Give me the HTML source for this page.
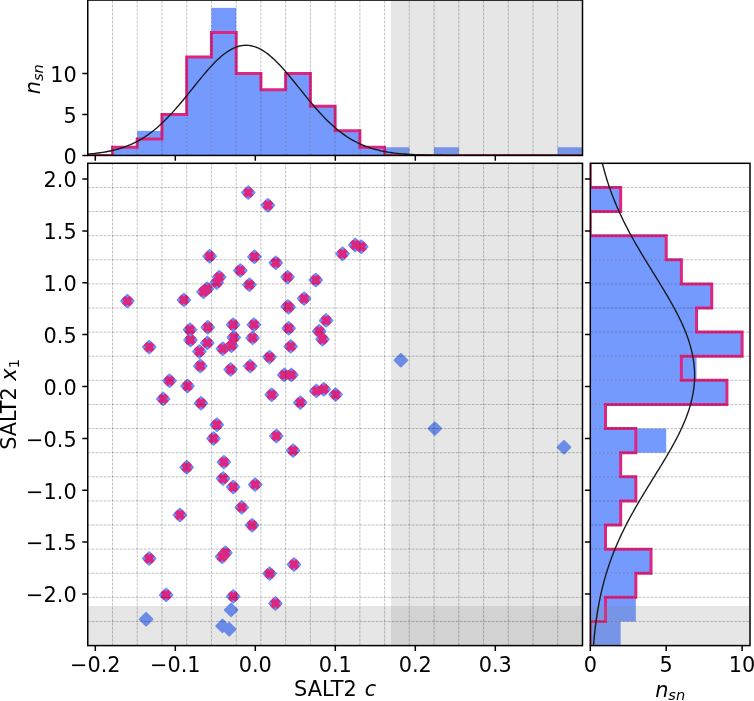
<!DOCTYPE html>
<html lang="en">
<head>
<meta charset="utf-8">
<title>SALT2 c vs x1</title>
<style>
html,body{margin:0;padding:0;background:#fff;}
body{width:754px;height:701px;overflow:hidden;}
svg{display:block;}
</style>
</head>
<body>
<svg width="754" height="701" viewBox="0 0 754 701">
<rect x="0" y="0" width="754" height="701" fill="#ffffff"/>
<defs>
<clipPath id="cm"><rect x="87.75" y="163.3" width="494.75" height="482.3"/></clipPath>
<clipPath id="ct"><rect x="87.75" y="0.05" width="494.75" height="155.4"/></clipPath>
<clipPath id="cr"><rect x="590.3" y="163.3" width="159.7" height="482.3"/></clipPath>
<g id="d"><path d="M0,-6.2L6.2,0L0,6.2L-6.2,0Z" fill="#648FFF" stroke="#648FFF" stroke-width="2.08" stroke-linejoin="round"/></g>
<g id="x"><path d="M-3.8,-3.8L3.8,3.8M-3.8,3.8L3.8,-3.8" stroke="#DC267F" stroke-width="4.7" fill="none"/></g>
</defs>
<g clip-path="url(#ct)">
<rect x="112.49" y="147.25" width="24.74" height="8.2" fill="#749AFF"/>
<rect x="137.22" y="130.85" width="24.74" height="24.6" fill="#749AFF"/>
<rect x="161.96" y="114.45" width="24.74" height="41" fill="#749AFF"/>
<rect x="186.7" y="57.05" width="24.74" height="98.4" fill="#749AFF"/>
<rect x="211.44" y="7.85" width="24.74" height="147.6" fill="#749AFF"/>
<rect x="236.18" y="73.45" width="24.74" height="82" fill="#749AFF"/>
<rect x="260.91" y="89.85" width="24.74" height="65.6" fill="#749AFF"/>
<rect x="285.65" y="73.45" width="24.74" height="82" fill="#749AFF"/>
<rect x="310.39" y="106.25" width="24.74" height="49.2" fill="#749AFF"/>
<rect x="335.12" y="130.85" width="24.74" height="24.6" fill="#749AFF"/>
<rect x="359.86" y="147.25" width="24.74" height="8.2" fill="#749AFF"/>
<rect x="384.6" y="147.25" width="24.74" height="8.2" fill="#749AFF"/>
<rect x="434.07" y="147.25" width="24.74" height="8.2" fill="#749AFF"/>
<rect x="557.76" y="147.25" width="24.74" height="8.2" fill="#749AFF"/>
<path d="M87.75,155.45L87.75,155.45L112.49,155.45L112.49,147.25L137.22,147.25L137.22,139.05L161.96,139.05L161.96,114.45L186.7,114.45L186.7,57.05L211.44,57.05L211.44,32.45L236.18,32.45L236.18,73.45L260.91,73.45L260.91,89.85L285.65,89.85L285.65,73.45L310.39,73.45L310.39,106.25L335.12,106.25L335.12,130.85L359.86,130.85L359.86,147.25L384.6,147.25L384.6,155.45L409.34,155.45L409.34,155.45L434.07,155.45L434.07,155.45L458.81,155.45L458.81,155.45L483.55,155.45L483.55,155.45L508.29,155.45L508.29,155.45L533.03,155.45L533.03,155.45L557.76,155.45L557.76,155.45L582.5,155.45L582.5,155.45" stroke="#DC267F" stroke-width="3.0" fill="none" stroke-linejoin="miter"/>
<rect x="391.0" y="-4.95" width="196.5" height="165.4" fill="#808080" fill-opacity="0.2"/>
<path d="M112.49,155.45V0.05M137.22,155.45V0.05M161.96,155.45V0.05M186.7,155.45V0.05M211.44,155.45V0.05M236.18,155.45V0.05M260.91,155.45V0.05M285.65,155.45V0.05M310.39,155.45V0.05M335.12,155.45V0.05M359.86,155.45V0.05M384.6,155.45V0.05M409.34,155.45V0.05M434.07,155.45V0.05M458.81,155.45V0.05M483.55,155.45V0.05M508.29,155.45V0.05M533.03,155.45V0.05M557.76,155.45V0.05" stroke="#000" stroke-opacity="0.31" stroke-width="0.8" stroke-dasharray="2.8 1.2" fill="none"/>
<polyline points="87.75,154.04 90.22,153.84 92.7,153.61 95.17,153.35 97.64,153.06 100.12,152.74 102.59,152.38 105.07,151.98 107.54,151.53 110.01,151.04 112.49,150.5 114.96,149.9 117.44,149.25 119.91,148.53 122.38,147.74 124.86,146.89 127.33,145.96 129.8,144.95 132.28,143.85 134.75,142.67 137.22,141.4 139.7,140.04 142.17,138.58 144.65,137.02 147.12,135.36 149.59,133.6 152.07,131.73 154.54,129.76 157.01,127.69 159.49,125.51 161.96,123.22 164.44,120.84 166.91,118.36 169.38,115.79 171.86,113.13 174.33,110.39 176.81,107.57 179.28,104.69 181.75,101.74 184.23,98.74 186.7,95.71 189.17,92.65 191.65,89.57 194.12,86.48 196.59,83.41 199.07,80.35 201.54,77.34 204.02,74.38 206.49,71.48 208.96,68.66 211.44,65.95 213.91,63.34 216.38,60.86 218.86,58.52 221.33,56.33 223.81,54.31 226.28,52.46 228.75,50.81 231.23,49.35 233.7,48.11 236.18,47.08 238.65,46.27 241.12,45.69 243.6,45.35 246.07,45.24 248.54,45.36 251.02,45.71 253.49,46.3 255.97,47.12 258.44,48.15 260.91,49.41 263.39,50.87 265.86,52.53 268.33,54.38 270.81,56.41 273.28,58.61 275.75,60.95 278.23,63.44 280.7,66.05 283.18,68.78 285.65,71.59 288.12,74.49 290.6,77.46 293.07,80.48 295.54,83.53 298.02,86.61 300.49,89.69 302.97,92.77 305.44,95.83 307.91,98.87 310.39,101.86 312.86,104.8 315.34,107.69 317.81,110.5 320.28,113.24 322.76,115.9 325.23,118.47 327.7,120.94 330.18,123.32 332.65,125.6 335.12,127.77 337.6,129.84 340.07,131.81 342.55,133.67 345.02,135.43 347.49,137.09 349.97,138.64 352.44,140.1 354.92,141.46 357.39,142.72 359.86,143.9 362.34,144.99 364.81,145.99 367.28,146.92 369.76,147.78 372.23,148.56 374.7,149.28 377.18,149.93 379.65,150.52 382.13,151.06 384.6,151.55 387.07,152 389.55,152.39 392.02,152.75 394.5,153.07 396.97,153.36 399.44,153.62 401.92,153.85 404.39,154.05 406.86,154.23 409.34,154.39 411.81,154.53 414.29,154.65 416.76,154.76 419.23,154.85 421.71,154.94 424.18,155.01 426.65,155.07 429.13,155.13 431.6,155.18 434.07,155.22 436.55,155.25 439.02,155.28 441.5,155.31 443.97,155.33 446.44,155.35 448.92,155.36 451.39,155.38 453.87,155.39 456.34,155.4 458.81,155.41 461.29,155.42 463.76,155.42 466.23,155.43 468.71,155.43 471.18,155.43 473.65,155.44 476.13,155.44 478.6,155.44 481.08,155.44 483.55,155.44 486.02,155.45 488.5,155.45 490.97,155.45 493.44,155.45 495.92,155.45 498.39,155.45 500.87,155.45 503.34,155.45 505.81,155.45 508.29,155.45 510.76,155.45 513.24,155.45 515.71,155.45 518.18,155.45 520.66,155.45 523.13,155.45 525.6,155.45 528.08,155.45 530.55,155.45 533.02,155.45 535.5,155.45 537.97,155.45 540.45,155.45 542.92,155.45 545.39,155.45 547.87,155.45 550.34,155.45 552.82,155.45 555.29,155.45 557.76,155.45 560.24,155.45 562.71,155.45 565.18,155.45 567.66,155.45 570.13,155.45 572.61,155.45 575.08,155.45 577.55,155.45 580.03,155.45 582.5,155.45" stroke="#1a1a1a" stroke-width="1.39" fill="none"/>
</g>
<rect x="87.75" y="0.05" width="494.75" height="155.4" stroke="#000" stroke-width="1.5" fill="none"/>
<path d="M95.3,155.45v5.4M175.3,155.45v5.4M255.3,155.45v5.4M335.3,155.45v5.4M415.3,155.45v5.4M495.3,155.45v5.4M87.75,155.45h-5.4M87.75,114.45h-5.4M87.75,73.45h-5.4" stroke="#000" stroke-width="1.5" fill="none"/>
<g clip-path="url(#cr)">
<rect x="590.3" y="621.49" width="30.36" height="24.12" fill="#749AFF"/>
<rect x="590.3" y="597.37" width="45.54" height="24.12" fill="#749AFF"/>
<rect x="590.3" y="573.25" width="45.54" height="24.12" fill="#749AFF"/>
<rect x="590.3" y="549.14" width="60.72" height="24.12" fill="#749AFF"/>
<rect x="590.3" y="525.02" width="15.18" height="24.12" fill="#749AFF"/>
<rect x="590.3" y="500.91" width="30.36" height="24.12" fill="#749AFF"/>
<rect x="590.3" y="476.8" width="45.54" height="24.12" fill="#749AFF"/>
<rect x="590.3" y="452.68" width="30.36" height="24.12" fill="#749AFF"/>
<rect x="590.3" y="428.56" width="75.9" height="24.12" fill="#749AFF"/>
<rect x="590.3" y="404.45" width="15.18" height="24.12" fill="#749AFF"/>
<rect x="590.3" y="380.33" width="136.62" height="24.12" fill="#749AFF"/>
<rect x="590.3" y="356.22" width="106.26" height="24.12" fill="#749AFF"/>
<rect x="590.3" y="332.11" width="151.8" height="24.12" fill="#749AFF"/>
<rect x="590.3" y="307.99" width="106.26" height="24.12" fill="#749AFF"/>
<rect x="590.3" y="283.88" width="121.44" height="24.12" fill="#749AFF"/>
<rect x="590.3" y="259.76" width="91.08" height="24.12" fill="#749AFF"/>
<rect x="590.3" y="235.64" width="75.9" height="24.12" fill="#749AFF"/>
<rect x="590.3" y="187.41" width="30.36" height="24.12" fill="#749AFF"/>
<path d="M590.3,645.6L590.3,645.6L590.3,621.49L605.48,621.49L605.48,597.37L635.84,597.37L635.84,573.25L651.02,573.25L651.02,549.14L605.48,549.14L605.48,525.02L620.66,525.02L620.66,500.91L635.84,500.91L635.84,476.8L620.66,476.8L620.66,452.68L635.84,452.68L635.84,428.56L605.48,428.56L605.48,404.45L726.92,404.45L726.92,380.33L681.38,380.33L681.38,356.22L742.1,356.22L742.1,332.11L696.56,332.11L696.56,307.99L711.74,307.99L711.74,283.88L681.38,283.88L681.38,259.76L666.2,259.76L666.2,235.64L590.3,235.64L590.3,211.53L620.66,211.53L620.66,187.41L590.3,187.41L590.3,163.3L590.3,163.3" stroke="#DC267F" stroke-width="3.0" fill="none" stroke-linejoin="miter"/>
<rect x="585.3" y="606.0" width="169.7" height="44.6" fill="#808080" fill-opacity="0.2"/>
<path d="M590.3,621.49H750.0M590.3,597.37H750.0M590.3,573.25H750.0M590.3,549.14H750.0M590.3,525.02H750.0M590.3,500.91H750.0M590.3,476.8H750.0M590.3,452.68H750.0M590.3,428.56H750.0M590.3,404.45H750.0M590.3,380.33H750.0M590.3,356.22H750.0M590.3,332.11H750.0M590.3,307.99H750.0M590.3,283.88H750.0M590.3,259.76H750.0M590.3,235.64H750.0M590.3,211.53H750.0M590.3,187.41H750.0" stroke="#000" stroke-opacity="0.31" stroke-width="0.8" stroke-dasharray="2.8 1.2" fill="none"/>
<polyline points="602.38,163.3 602.98,165.71 603.61,168.12 604.26,170.53 604.93,172.95 605.63,175.36 606.35,177.77 607.09,180.18 607.86,182.59 608.66,185 609.48,187.42 610.32,189.83 611.19,192.24 612.09,194.65 613.01,197.06 613.96,199.47 614.94,201.88 615.94,204.3 616.97,206.71 618.02,209.12 619.1,211.53 620.2,213.94 621.33,216.35 622.48,218.76 623.65,221.18 624.86,223.59 626.08,226 627.33,228.41 628.59,230.82 629.88,233.23 631.19,235.65 632.52,238.06 633.87,240.47 635.24,242.88 636.63,245.29 638.03,247.7 639.44,250.11 640.87,252.53 642.31,254.94 643.77,257.35 645.23,259.76 646.7,262.17 648.18,264.58 649.67,266.99 651.16,269.41 652.65,271.82 654.14,274.23 655.64,276.64 657.13,279.05 658.61,281.46 660.09,283.88 661.56,286.29 663.03,288.7 664.48,291.11 665.92,293.52 667.34,295.93 668.75,298.34 670.14,300.76 671.5,303.17 672.85,305.58 674.17,307.99 675.46,310.4 676.73,312.81 677.96,315.22 679.17,317.64 680.34,320.05 681.47,322.46 682.57,324.87 683.63,327.28 684.65,329.69 685.63,332.11 686.56,334.52 687.45,336.93 688.29,339.34 689.08,341.75 689.83,344.16 690.52,346.57 691.17,348.99 691.76,351.4 692.3,353.81 692.78,356.22 693.21,358.63 693.58,361.04 693.9,363.45 694.16,365.87 694.36,368.28 694.5,370.69 694.59,373.1 694.62,375.51 694.59,377.92 694.5,380.34 694.36,382.75 694.16,385.16 693.9,387.57 693.58,389.98 693.2,392.39 692.78,394.8 692.29,397.22 691.75,399.63 691.16,402.04 690.52,404.45 689.82,406.86 689.08,409.27 688.28,411.68 687.44,414.1 686.55,416.51 685.62,418.92 684.64,421.33 683.62,423.74 682.56,426.15 681.46,428.56 680.33,430.98 679.16,433.39 677.95,435.8 676.72,438.21 675.45,440.62 674.16,443.03 672.84,445.45 671.49,447.86 670.12,450.27 668.74,452.68 667.33,455.09 665.91,457.5 664.47,459.91 663.02,462.33 661.55,464.74 660.08,467.15 658.6,469.56 657.11,471.97 655.62,474.38 654.13,476.8 652.64,479.21 651.15,481.62 649.66,484.03 648.17,486.44 646.69,488.85 645.22,491.26 643.76,493.68 642.3,496.09 640.86,498.5 639.43,500.91 638.02,503.32 636.62,505.73 635.23,508.14 633.86,510.56 632.51,512.97 631.18,515.38 629.87,517.79 628.58,520.2 627.32,522.61 626.07,525.03 624.85,527.44 623.65,529.85 622.47,532.26 621.32,534.67 620.19,537.08 619.09,539.49 618.01,541.91 616.96,544.32 615.93,546.73 614.93,549.14 613.96,551.55 613.01,553.96 612.08,556.37 611.19,558.79 610.32,561.2 609.47,563.61 608.65,566.02 607.86,568.43 607.09,570.84 606.34,573.25 605.62,575.67 604.93,578.08 604.25,580.49 603.6,582.9 602.98,585.31 602.38,587.72 601.8,590.14 601.24,592.55 600.7,594.96 600.18,597.37 599.69,599.78 599.21,602.19 598.75,604.6 598.32,607.02 597.9,609.43 597.49,611.84 597.11,614.25 596.74,616.66 596.39,619.07 596.06,621.49 595.74,623.9 595.43,626.31 595.14,628.72 594.87,631.13 594.6,633.54 594.35,635.95 594.12,638.37 593.89,640.78 593.68,643.19 593.47,645.6" stroke="#1a1a1a" stroke-width="1.39" fill="none"/>
</g>
<rect x="590.3" y="163.3" width="159.7" height="482.3" stroke="#000" stroke-width="1.5" fill="none"/>
<path d="M590.3,594h-5.4M590.3,542.12h-5.4M590.3,490.25h-5.4M590.3,438.38h-5.4M590.3,386.5h-5.4M590.3,334.62h-5.4M590.3,282.75h-5.4M590.3,230.88h-5.4M590.3,179h-5.4M590.3,645.6v5.4M666.2,645.6v5.4M742.1,645.6v5.4" stroke="#000" stroke-width="1.5" fill="none"/>
<g clip-path="url(#cm)">
<use href="#d" x="248.3" y="192.6"/>
<use href="#d" x="267.9" y="205.3"/>
<use href="#d" x="209.7" y="256.3"/>
<use href="#d" x="254.4" y="256.8"/>
<use href="#d" x="275.8" y="262.8"/>
<use href="#d" x="240.3" y="270.5"/>
<use href="#d" x="219.2" y="277.1"/>
<use href="#d" x="216.8" y="282.5"/>
<use href="#d" x="249.4" y="284.7"/>
<use href="#d" x="287.6" y="277.1"/>
<use href="#d" x="315.8" y="280.0"/>
<use href="#d" x="304.1" y="298.6"/>
<use href="#d" x="287.8" y="306.5"/>
<use href="#d" x="288.7" y="307.2"/>
<use href="#d" x="207.1" y="288.8"/>
<use href="#d" x="203.5" y="291.7"/>
<use href="#d" x="342.5" y="253.8"/>
<use href="#d" x="355.3" y="245.0"/>
<use href="#d" x="361.3" y="246.8"/>
<use href="#d" x="127.4" y="301.1"/>
<use href="#d" x="183.9" y="299.9"/>
<use href="#d" x="190.0" y="329.7"/>
<use href="#d" x="207.8" y="327.2"/>
<use href="#d" x="233.1" y="324.7"/>
<use href="#d" x="253.9" y="324.7"/>
<use href="#d" x="190.5" y="340.0"/>
<use href="#d" x="207.3" y="342.9"/>
<use href="#d" x="233.8" y="337.5"/>
<use href="#d" x="252.6" y="337.9"/>
<use href="#d" x="199.4" y="351.5"/>
<use href="#d" x="222.8" y="348.8"/>
<use href="#d" x="231.4" y="345.7"/>
<use href="#d" x="269.5" y="357.1"/>
<use href="#d" x="200.3" y="366.0"/>
<use href="#d" x="230.6" y="369.5"/>
<use href="#d" x="250.2" y="366.1"/>
<use href="#d" x="187.5" y="386.0"/>
<use href="#d" x="201.0" y="403.2"/>
<use href="#d" x="271.7" y="394.7"/>
<use href="#d" x="326.1" y="320.4"/>
<use href="#d" x="288.7" y="328.3"/>
<use href="#d" x="319.2" y="331.2"/>
<use href="#d" x="322.5" y="339.2"/>
<use href="#d" x="290.7" y="346.4"/>
<use href="#d" x="284.3" y="374.9"/>
<use href="#d" x="291.4" y="374.9"/>
<use href="#d" x="316.4" y="390.9"/>
<use href="#d" x="323.8" y="389.2"/>
<use href="#d" x="335.6" y="394.6"/>
<use href="#d" x="300.3" y="402.6"/>
<use href="#d" x="149.2" y="347.1"/>
<use href="#d" x="169.5" y="380.7"/>
<use href="#d" x="163.2" y="398.9"/>
<use href="#d" x="216.8" y="424.7"/>
<use href="#d" x="213.5" y="438.5"/>
<use href="#d" x="223.9" y="462.1"/>
<use href="#d" x="186.7" y="467.3"/>
<use href="#d" x="223.1" y="478.5"/>
<use href="#d" x="233.2" y="487.0"/>
<use href="#d" x="255.2" y="484.6"/>
<use href="#d" x="276.3" y="436.0"/>
<use href="#d" x="293.1" y="450.6"/>
<use href="#d" x="179.9" y="515.0"/>
<use href="#d" x="149.2" y="558.5"/>
<use href="#d" x="241.8" y="507.4"/>
<use href="#d" x="252.1" y="525.2"/>
<use href="#d" x="225.4" y="552.8"/>
<use href="#d" x="222.1" y="556.8"/>
<use href="#d" x="269.6" y="573.6"/>
<use href="#d" x="294.0" y="564.5"/>
<use href="#d" x="275.4" y="603.5"/>
<use href="#d" x="166.1" y="594.9"/>
<use href="#d" x="233.2" y="596.4"/>
<use href="#d" x="146.1" y="619.2"/>
<use href="#d" x="231.1" y="609.9"/>
<use href="#d" x="222.5" y="625.9"/>
<use href="#d" x="229.2" y="629.2"/>
<use href="#d" x="400.9" y="360.3"/>
<use href="#d" x="434.8" y="428.6"/>
<use href="#d" x="564.0" y="447.3"/>
<use href="#x" x="248.3" y="192.6"/>
<use href="#x" x="267.9" y="205.3"/>
<use href="#x" x="209.7" y="256.3"/>
<use href="#x" x="254.4" y="256.8"/>
<use href="#x" x="275.8" y="262.8"/>
<use href="#x" x="240.3" y="270.5"/>
<use href="#x" x="219.2" y="277.1"/>
<use href="#x" x="216.8" y="282.5"/>
<use href="#x" x="249.4" y="284.7"/>
<use href="#x" x="287.6" y="277.1"/>
<use href="#x" x="315.8" y="280.0"/>
<use href="#x" x="304.1" y="298.6"/>
<use href="#x" x="287.8" y="306.5"/>
<use href="#x" x="288.7" y="307.2"/>
<use href="#x" x="207.1" y="288.8"/>
<use href="#x" x="203.5" y="291.7"/>
<use href="#x" x="342.5" y="253.8"/>
<use href="#x" x="355.3" y="245.0"/>
<use href="#x" x="361.3" y="246.8"/>
<use href="#x" x="127.4" y="301.1"/>
<use href="#x" x="183.9" y="299.9"/>
<use href="#x" x="190.0" y="329.7"/>
<use href="#x" x="207.8" y="327.2"/>
<use href="#x" x="233.1" y="324.7"/>
<use href="#x" x="253.9" y="324.7"/>
<use href="#x" x="190.5" y="340.0"/>
<use href="#x" x="207.3" y="342.9"/>
<use href="#x" x="233.8" y="337.5"/>
<use href="#x" x="252.6" y="337.9"/>
<use href="#x" x="199.4" y="351.5"/>
<use href="#x" x="222.8" y="348.8"/>
<use href="#x" x="231.4" y="345.7"/>
<use href="#x" x="269.5" y="357.1"/>
<use href="#x" x="200.3" y="366.0"/>
<use href="#x" x="230.6" y="369.5"/>
<use href="#x" x="250.2" y="366.1"/>
<use href="#x" x="187.5" y="386.0"/>
<use href="#x" x="201.0" y="403.2"/>
<use href="#x" x="271.7" y="394.7"/>
<use href="#x" x="326.1" y="320.4"/>
<use href="#x" x="288.7" y="328.3"/>
<use href="#x" x="319.2" y="331.2"/>
<use href="#x" x="322.5" y="339.2"/>
<use href="#x" x="290.7" y="346.4"/>
<use href="#x" x="284.3" y="374.9"/>
<use href="#x" x="291.4" y="374.9"/>
<use href="#x" x="316.4" y="390.9"/>
<use href="#x" x="323.8" y="389.2"/>
<use href="#x" x="335.6" y="394.6"/>
<use href="#x" x="300.3" y="402.6"/>
<use href="#x" x="149.2" y="347.1"/>
<use href="#x" x="169.5" y="380.7"/>
<use href="#x" x="163.2" y="398.9"/>
<use href="#x" x="216.8" y="424.7"/>
<use href="#x" x="213.5" y="438.5"/>
<use href="#x" x="223.9" y="462.1"/>
<use href="#x" x="186.7" y="467.3"/>
<use href="#x" x="223.1" y="478.5"/>
<use href="#x" x="233.2" y="487.0"/>
<use href="#x" x="255.2" y="484.6"/>
<use href="#x" x="276.3" y="436.0"/>
<use href="#x" x="293.1" y="450.6"/>
<use href="#x" x="179.9" y="515.0"/>
<use href="#x" x="149.2" y="558.5"/>
<use href="#x" x="241.8" y="507.4"/>
<use href="#x" x="252.1" y="525.2"/>
<use href="#x" x="225.4" y="552.8"/>
<use href="#x" x="222.1" y="556.8"/>
<use href="#x" x="269.6" y="573.6"/>
<use href="#x" x="294.0" y="564.5"/>
<use href="#x" x="275.4" y="603.5"/>
<use href="#x" x="166.1" y="594.9"/>
<use href="#x" x="233.2" y="596.4"/>
<rect x="391.0" y="158.3" width="196.5" height="492.3" fill="#808080" fill-opacity="0.2"/>
<rect x="82.75" y="606.0" width="504.75" height="44.6" fill="#808080" fill-opacity="0.2"/>
<path d="M112.49,645.6V163.3M137.22,645.6V163.3M161.96,645.6V163.3M186.7,645.6V163.3M211.44,645.6V163.3M236.18,645.6V163.3M260.91,645.6V163.3M285.65,645.6V163.3M310.39,645.6V163.3M335.12,645.6V163.3M359.86,645.6V163.3M384.6,645.6V163.3M409.34,645.6V163.3M434.07,645.6V163.3M458.81,645.6V163.3M483.55,645.6V163.3M508.29,645.6V163.3M533.03,645.6V163.3M557.76,645.6V163.3M87.75,621.49H582.5M87.75,597.37H582.5M87.75,573.25H582.5M87.75,549.14H582.5M87.75,525.02H582.5M87.75,500.91H582.5M87.75,476.8H582.5M87.75,452.68H582.5M87.75,428.56H582.5M87.75,404.45H582.5M87.75,380.33H582.5M87.75,356.22H582.5M87.75,332.11H582.5M87.75,307.99H582.5M87.75,283.88H582.5M87.75,259.76H582.5M87.75,235.64H582.5M87.75,211.53H582.5M87.75,187.41H582.5" stroke="#000" stroke-opacity="0.31" stroke-width="0.8" stroke-dasharray="2.8 1.2" fill="none"/>
</g>
<rect x="87.75" y="163.3" width="494.75" height="482.3" stroke="#000" stroke-width="1.5" fill="none"/>
<path d="M95.3,645.6v5.4M175.3,645.6v5.4M255.3,645.6v5.4M335.3,645.6v5.4M415.3,645.6v5.4M495.3,645.6v5.4M87.75,594h-5.4M87.75,542.12h-5.4M87.75,490.25h-5.4M87.75,438.38h-5.4M87.75,386.5h-5.4M87.75,334.62h-5.4M87.75,282.75h-5.4M87.75,230.88h-5.4M87.75,179h-5.4" stroke="#000" stroke-width="1.5" fill="none"/>
<g font-family="'DejaVu Sans','Liberation Sans',sans-serif" font-size="20.83" fill="#000">
<text x="95.3" y="671.6" text-anchor="middle">−0.2</text>
<text x="175.3" y="671.6" text-anchor="middle">−0.1</text>
<text x="255.3" y="671.6" text-anchor="middle">0.0</text>
<text x="335.3" y="671.6" text-anchor="middle">0.1</text>
<text x="415.3" y="671.6" text-anchor="middle">0.2</text>
<text x="495.3" y="671.6" text-anchor="middle">0.3</text>
<text x="76.65" y="602.3" text-anchor="end">−2.0</text>
<text x="76.65" y="550.42" text-anchor="end">−1.5</text>
<text x="76.65" y="498.55" text-anchor="end">−1.0</text>
<text x="76.65" y="446.68" text-anchor="end">−0.5</text>
<text x="76.65" y="394.8" text-anchor="end">0.0</text>
<text x="76.65" y="342.93" text-anchor="end">0.5</text>
<text x="76.65" y="291.05" text-anchor="end">1.0</text>
<text x="76.65" y="239.18" text-anchor="end">1.5</text>
<text x="76.65" y="187.3" text-anchor="end">2.0</text>
<text x="76.65" y="163.75" text-anchor="end">0</text>
<text x="76.65" y="122.75" text-anchor="end">5</text>
<text x="76.65" y="81.75" text-anchor="end">10</text>
<text x="590.3" y="671.6" text-anchor="middle">0</text>
<text x="666.2" y="671.6" text-anchor="middle">5</text>
<text x="742.1" y="671.6" text-anchor="middle">10</text>
<text x="335.12" y="696.0" text-anchor="middle">SALT2 <tspan font-style="oblique" dx="1.4">c</tspan></text>
<text x="670.15" y="696.9" text-anchor="middle"><tspan font-style="oblique">n</tspan><tspan font-style="oblique" font-size="14.58" dy="3.2">sn</tspan></text>
<text transform="translate(16,404.45) rotate(-90)" text-anchor="middle">SALT2 <tspan font-style="oblique">x</tspan><tspan font-size="14.58" dy="3.2">1</tspan></text>
<text transform="translate(39.5,79.25) rotate(-90)" text-anchor="middle"><tspan font-style="oblique">n</tspan><tspan font-style="oblique" font-size="14.58" dy="3.2">sn</tspan></text>
</g>
</svg>
</body>
</html>
